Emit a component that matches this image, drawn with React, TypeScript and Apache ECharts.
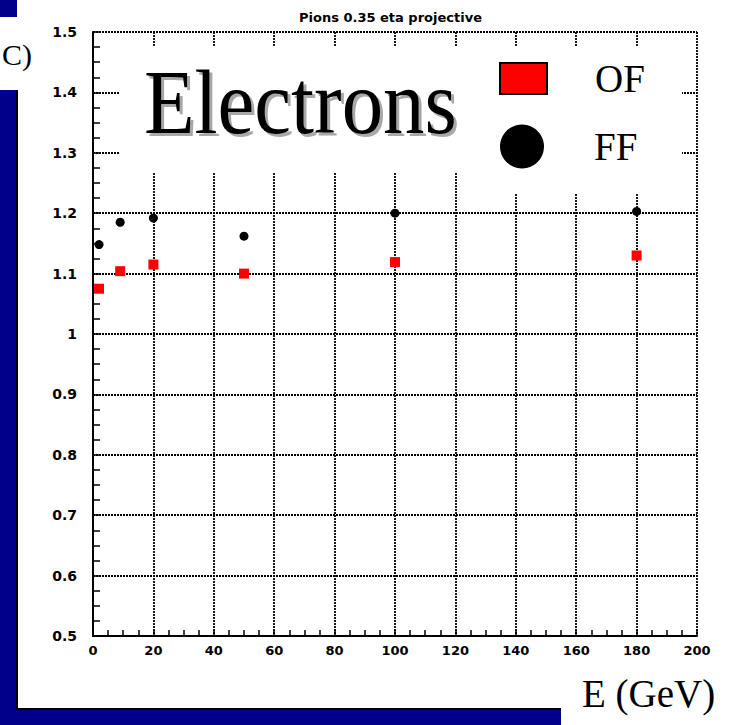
import React, { useEffect, useRef } from "react";
import * as echarts from "echarts";

// ---- data ----
const ENERGIES = [2, 9, 20, 50, 100, 180];
const OF_VALUES = [1.075, 1.104, 1.115, 1.1, 1.119, 1.13];
const FF_VALUES = [1.148, 1.185, 1.192, 1.162, 1.2, 1.203];
const X_TICKS = ["0", "20", "40", "60", "80", "100", "120", "140", "160", "180", "200"];
const Y_TICKS = ["0.5", "0.6", "0.7", "0.8", "0.9", "1", "1.1", "1.2", "1.3", "1.4", "1.5"];
const TITLE = "Pions 0.35 eta projective";
const SERIES_NAMES = ["OF", "FF"];

const NAVY = "#00008b";
const SERIF = "'Liberation Serif', 'Times New Roman', serif";
const SANS = "'DejaVu Sans', sans-serif";

export default function App() {
  const ref = useRef<HTMLDivElement>(null);

  useEffect(() => {
    if (!ref.current) return;
    const chart = echarts.init(ref.current, null, { renderer: "svg" });
    const grid = { color: "#000", width: 1.8, type: [2, 1] as number[] };

    chart.setOption({
      animation: false,
      backgroundColor: "#fff",
      title: {
        text: TITLE,
        left: 299,
        top: 11,
        padding: 0,
        textStyle: { fontFamily: SANS, fontSize: 13, fontWeight: "bold", color: "#000" },
      },
      grid: { left: 93, top: 32, width: 604, height: 604 },
      legend: [
        {
          data: [{ name: SERIES_NAMES[0], icon: "rect" }],
          left: 499,
          top: 59,
          padding: 0,
          itemWidth: 47,
          itemHeight: 31,
          selectedMode: false,
          itemStyle: { borderColor: "#000", borderWidth: 2, opacity: 1 },
          textStyle: { fontFamily: SERIF, fontSize: 39, lineHeight: 39, color: "#000", padding: [0, 0, 0, 43] },
        },
        {
          data: [{ name: SERIES_NAMES[1], icon: "circle" }],
          left: 500,
          top: 122,
          padding: 0,
          itemWidth: 44,
          itemHeight: 44,
          selectedMode: false,
          itemStyle: { opacity: 1 },
          textStyle: { fontFamily: SERIF, fontSize: 39, lineHeight: 39, color: "#000", padding: [10, 0, 0, 45] },
        },
      ],
      xAxis: {
        type: "value",
        min: 0,
        max: 200,
        interval: 20,
        axisLine: { onZero: false, lineStyle: { color: "#000", width: 2 } },
        axisTick: { show: true, inside: true, length: 6, lineStyle: { color: "#000", width: 1.5 } },
        minorTick: { show: true, splitNumber: 4, length: 6, lineStyle: { color: "#000", width: 1.5 } },
        axisLabel: {
          margin: 8,
          fontFamily: SANS,
          fontSize: 13,
          fontWeight: "bold",
          color: "#000",
          formatter: (v: number) => X_TICKS[Math.round(v / 20)] ?? "",
        },
        splitLine: { show: true, lineStyle: grid },
      },
      yAxis: {
        type: "value",
        min: 0.5,
        max: 1.5,
        interval: 0.1,
        axisLine: { onZero: false, lineStyle: { color: "#000", width: 2 } },
        axisTick: { show: true, inside: true, length: 7, lineStyle: { color: "#000", width: 1.5 } },
        minorTick: { show: true, splitNumber: 4, length: 7, lineStyle: { color: "#000", width: 1.5 } },
        axisLabel: {
          margin: 16,
          fontFamily: SANS,
          fontSize: 14,
          fontWeight: "bold",
          color: "#000",
          formatter: (v: number) => Y_TICKS[Math.round((v - 0.5) * 10)] ?? "",
        },
        splitLine: { show: true, lineStyle: grid },
      },
      series: [
        {
          name: SERIES_NAMES[0],
          type: "scatter",
          symbol: "rect",
          symbolSize: 10,
          itemStyle: { color: "#ff0000", opacity: 1 },
          data: ENERGIES.map((e, i) => [e, OF_VALUES[i]]),
          z: 3,
        },
        {
          name: SERIES_NAMES[1],
          type: "scatter",
          symbol: "circle",
          symbolSize: 9,
          itemStyle: { color: "#000", opacity: 1 },
          data: ENERGIES.map((e, i) => [e, FF_VALUES[i]]),
          z: 3,
        },
      ],
      graphic: [
        // slide frame
        { type: "rect", z: 0, shape: { x: 0, y: 0, width: 17, height: 725 }, style: { fill: NAVY } },
        { type: "rect", z: 0, shape: { x: 0, y: 709, width: 730, height: 16 }, style: { fill: NAVY } },
        { type: "rect", z: 0, shape: { x: 16, y: 90, width: 2, height: 620 }, style: { fill: "#000" } },
        { type: "rect", z: 0, shape: { x: 16, y: 708, width: 545, height: 2 }, style: { fill: "#000" } },
        { type: "rect", z: 0, shape: { x: 0, y: 17, width: 34, height: 73 }, style: { fill: "#fff" } },
        { type: "rect", z: 0, shape: { x: 561, y: 700, width: 169, height: 25 }, style: { fill: "#fff" } },
        // white boxes hiding the grid behind the label / legend
        { type: "rect", z: 1, shape: { x: 120, y: 46, width: 562, height: 127 }, style: { fill: "#fff" } },
        { type: "rect", z: 1, shape: { x: 480, y: 46, width: 202, height: 148 }, style: { fill: "#fff" } },
        // shadow copy of the big label
        {
          type: "text",
          z: 9,
          x: 147,
          y: 105,
          scaleX: 0.9,
          silent: true,
          style: {
            text: "Electrons",
            fontFamily: SERIF,
            fontSize: 92,
            fill: "#a8a8a8",
            textAlign: "left",
            textVerticalAlign: "middle",
          },
        },
        {
          type: "text",
          z: 10,
          x: 144,
          y: 102,
          scaleX: 0.9,
          style: {
            text: "Electrons",
            fontFamily: SERIF,
            fontSize: 92,
            fill: "#000",
            textAlign: "left",
            textVerticalAlign: "middle",
          },
        },
        {
          type: "text",
          z: 10,
          x: 2,
          y: 54,
          style: {
            text: "C)",
            fontFamily: SERIF,
            fontSize: 30,
            fill: "#000",
            textAlign: "left",
            textVerticalAlign: "middle",
          },
        },
        {
          type: "text",
          z: 10,
          x: 582,
          y: 693,
          style: {
            text: "E (GeV)",
            fontFamily: SERIF,
            fontSize: 39,
            fill: "#000",
            textAlign: "left",
            textVerticalAlign: "middle",
          },
        },
      ],
    });

    return () => chart.dispose();
  }, []);

  return (
    <div
      ref={ref}
      style={{ position: "absolute", left: 0, top: 0, width: 730, height: 725 }}
    />
  );
}
